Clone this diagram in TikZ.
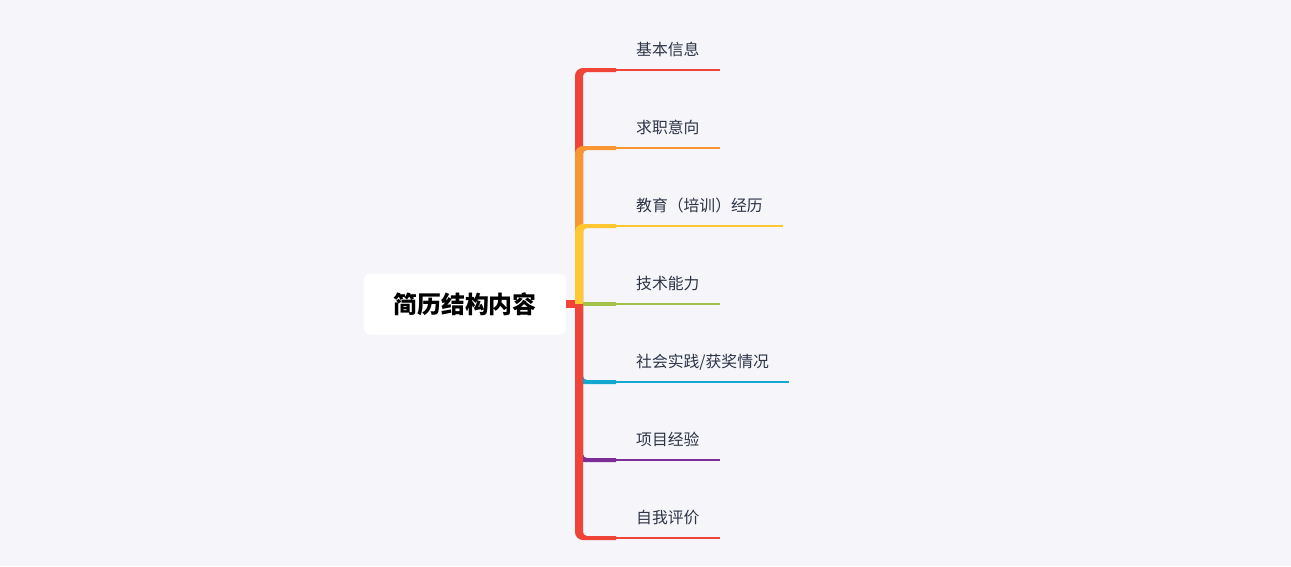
\documentclass[tikz,border=0pt]{standalone}
\usepackage{fontspec}
\newfontfamily\cjk{Noto Sans CJK SC}
\usetikzlibrary{positioning,calc}
\definecolor{mapbg}{RGB}{245,245,250}
\definecolor{labelink}{RGB}{44,52,70}
\definecolor{branchred}{RGB}{240,68,56}
\definecolor{branchorange}{RGB}{247,150,50}
\definecolor{branchyellow}{RGB}{255,200,50}
\definecolor{branchgreen}{RGB}{163,193,74}
\definecolor{branchcyan}{RGB}{20,168,208}
\definecolor{branchpurple}{RGB}{125,45,150}
\begin{document}
\begin{tikzpicture}[x=0.02cm, y=-0.02cm,
  leaf/.style={anchor=south west, inner xsep=11.3pt, inner ysep=8pt, text depth=0pt,
    text=labelink, font=\cjk\fontsize{9pt}{11pt}\selectfont},
  twig/.style={line width=0.8pt}]
  % Background
  \fill[mapbg] (0,0) rectangle (1291,566);
  \useasboundingbox (0,0) rectangle (1291,566);
  % Central topic
  \node[fill=white, rounded corners=3.5pt, minimum width=4.04cm, minimum height=1.22cm,
    font=\cjk\bfseries\fontsize{13.6pt}{16pt}\selectfont] (root) at (465,304) {简历结构内容};
  \coordinate (hub) at (579,304);
  % Topic labels
  \node[leaf] (basic) at (616,70) {基本信息};
  \node[leaf] (intent) at (616,148) {求职意向};
  \node[leaf] (edu) at (616,226) {教育（培训）经历};
  \node[leaf] (skill) at (616,304) {技术能力};
  \node[leaf] (social) at (616,382) {社会实践/获奖情况};
  \node[leaf] (proj) at (616,460) {项目经验};
  \node[leaf] (self) at (616,538) {自我评价};
  % Stub from central topic
  \draw[line width=4.5pt, branchred] (root.east) -- (hub);
  % Branches above and below
  \foreach \n/\c/\s in {basic/branchred/-1, intent/branchorange/-1, edu/branchyellow/-1,
      social/branchcyan/1, proj/branchpurple/1, self/branchred/1} {
    \fill[\c] ($(hub)+(-4,0)$) [rounded corners=4.5pt] -- ($(\n.south west)+(-41,2*\s)$)
      [sharp corners] -- ($(\n.south west)+(0,2*\s)$) -- ($(\n.south west)+(0,-2*\s)$)
      [rounded corners=2.3pt] -- ($(\n.south west)+(-33,-2*\s)$)
      [sharp corners] -- ($(hub)+(4,0)$) -- cycle;
    \draw[twig, \c] (\n.south west) -- (\n.south east);
  }
  % Straight branch
  \fill[branchgreen] ($(skill.south west)+(-33,-2)$) rectangle ($(skill.south west)+(0,2)$);
  \draw[twig, branchgreen] (skill.south west) -- (skill.south east);
\end{tikzpicture}
\end{document}
